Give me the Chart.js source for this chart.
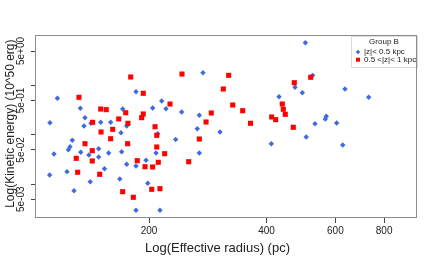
<!DOCTYPE html>
<html>
<head>
<meta charset="utf-8">
<script src="https://cdn.jsdelivr.net/npm/chart.js@4/dist/chart.umd.min.js"></script>
<style>
  html, body { margin: 0; padding: 0; background: #fff; }
  canvas { display: block; }
</style>
</head>
<body>
<canvas id="scatterChart" width="436" height="262"></canvas>
<script>
// Group B, |z| < 0.5 kpc
const lowZRadius = [274.9, 185.2, 133.4, 171.2, 215.5, 204.3, 221.0, 242.4, 269.0, 137.1,
  136.3, 142.0, 150.4, 159.5, 175.3, 169.5, 265.8, 303.9, 210.5, 234.0,
  127.2, 125.5, 124.3, 133.7, 140.3, 148.6, 148.6, 157.6, 170.2, 208.4,
  269.0, 196.5, 175.3, 185.2, 153.8, 123.3, 141.4, 168.3, 198.5, 128.5,
  185.2, 213.3, 502.8, 524.9, 473.0, 493.8, 635.0, 730.3, 430.4, 568.7,
  565.4, 532.1, 604.6, 505.2, 411.3, 626.6, 116.5, 111.5, 114.2, 111.3];
const lowZEnergy = [1.82, 0.751, 0.3465, 0.335, 0.487, 0.3514, 0.340, 0.2916, 0.25, 0.2237,
  0.152, 0.1723, 0.1805, 0.1805, 0.152, 0.1112, 0.134, 0.1149, 0.1062, 0.081,
  0.078, 0.0579, 0.0504, 0.0446, 0.0394, 0.0528, 0.0358, 0.0432, 0.0459, 0.0432,
  0.0432, 0.0307, 0.0255, 0.0236, 0.0208, 0.0181, 0.01134, 0.01287, 0.01053, 0.00746,
  0.00299, 0.00299, 7.36, 1.61, 0.922, 0.717, 0.852, 0.578, 0.595, 0.2387,
  0.2106, 0.169, 0.1748, 0.091, 0.0666, 0.0627, 0.552, 0.177, 0.0412, 0.0155];

// Group B, 0.5 < |z| < 1 kpc
const midZRadius = [179.5, 242.9, 319.9, 132.3, 193.3, 309.9, 150.4, 155.4, 174.3, 226.3,
  193.3, 191.5, 167.3, 143.4, 176.6, 288.7, 327.6, 347.4, 279.9, 363.8,
  150.7, 161.4, 207.2, 209.3, 159.5, 269.0, 137.1, 176.3, 143.1, 209.3,
  130.2, 143.1, 219.3, 186.6, 211.2, 252.7, 195.3, 204.3, 131.3, 149.5,
  203.2, 213.3, 171.2, 182.3, 518.8, 471.0, 438.8, 441.4, 446.6, 412.2,
  422.0, 468.2];
const midZEnergy = [1.49, 1.71, 1.61, 0.578, 0.697, 0.852, 0.335, 0.325, 0.282, 0.423,
  0.266, 0.224, 0.211, 0.1805, 0.1723, 0.2784, 0.404, 0.31, 0.183, 0.1723,
  0.1149, 0.1302, 0.147, 0.0985, 0.0841, 0.0829, 0.0666, 0.0666, 0.0481, 0.0571,
  0.0337, 0.0298, 0.0418, 0.0302, 0.028, 0.0288, 0.0228, 0.0225, 0.0176, 0.016,
  0.00796, 0.00819, 0.00712, 0.00548, 1.47, 1.142, 0.423, 0.331, 0.262, 0.231,
  0.2038, 0.143];

const seriesNames = ['|z|< 0.5 kpc', '0.5 <|z|< 1 kpc'];
const legendTitle = 'Group B';

const xTickValues = [200, 400, 600, 800];
const yTickValues = [0.005, 0.01, 0.05, 0.1, 0.5, 1, 5];
const yTickLabels = ['5e-03', '', '5e-02', '', '5e-01', '', '5e+00'];

const FONT = "'Liberation Sans', Arial, Helvetica, sans-serif";
// no-break spaces nudge the axis titles off the axis centre, like the R output
const NBSP = '\u00A0';

function toPoints(xs, ys) {
  return xs.map((x, i) => ({ x: x, y: ys[i] }));
}

// box round the plot region plus the R-style legend in the top right corner
const framePlugin = {
  id: 'frame',
  afterDatasetsDraw(chart) {
    const ctx = chart.ctx;
    const a = chart.chartArea;
    ctx.save();

    // legend
    const lx = a.right - 66, ly = a.top, lw = 66, lh = 31;
    ctx.fillStyle = '#fff';
    ctx.fillRect(lx, ly, lw, lh);
    ctx.strokeStyle = '#dcdcdc';
    ctx.lineWidth = 1;
    ctx.strokeRect(lx + 0.5, ly + 0.5, lw, lh);

    ctx.fillStyle = '#222';
    ctx.font = '8px ' + FONT;
    ctx.textBaseline = 'middle';
    ctx.textAlign = 'center';
    ctx.fillText(legendTitle, lx + 33, ly + 6);

    ctx.textAlign = 'left';
    chart.data.datasets.forEach((ds, i) => {
      const rowY = ly + 16 + i * 7.7;
      ctx.fillStyle = ds.backgroundColor;
      if (ds.pointStyle === 'rect') {
        ctx.fillRect(lx + 5, rowY - 2, 4, 4);
      } else {
        ctx.beginPath();
        ctx.moveTo(lx + 7, rowY - 2.2);
        ctx.lineTo(lx + 9.2, rowY);
        ctx.lineTo(lx + 7, rowY + 2.2);
        ctx.lineTo(lx + 4.8, rowY);
        ctx.closePath();
        ctx.fill();
      }
      ctx.fillStyle = '#222';
      ctx.fillText(ds.label, lx + 13, rowY);
    });

    // plot box
    ctx.strokeStyle = '#8c8c8c';
    ctx.lineWidth = 1;
    ctx.strokeRect(a.left - 0.5, a.top - 0.5, a.right - a.left, a.bottom - a.top);
    ctx.restore();
  }
};

const CHART = document.getElementById('scatterChart').getContext('2d');

let scatterChart = new Chart(CHART, {
  type: 'scatter',
  data: {
    datasets: [{
      label: seriesNames[0],
      data: toPoints(lowZRadius, lowZEnergy),
      backgroundColor: '#4169E1',
      borderWidth: 0,
      pointStyle: 'rectRot',
      pointRadius: 2.7,
      pointHoverRadius: 2.7,
      order: 2
    }, {
      label: seriesNames[1],
      data: toPoints(midZRadius, midZEnergy),
      backgroundColor: '#FF0000',
      borderWidth: 0,
      pointStyle: 'rect',
      pointRadius: 3.6,
      pointHoverRadius: 3.6,
      order: 1
    }]
  },
  options: {
    responsive: false,
    animation: false,
    events: [],
    layout: { padding: { top: 36, right: 19, left: 0, bottom: 0 } },
    plugins: {
      legend: { display: false },
      tooltip: { enabled: false }
    },
    scales: {
      x: {
        type: 'logarithmic',
        bounds: 'data',
        min: 102.7,
        max: 971,
        afterBuildTicks: (scale) => { scale.ticks = xTickValues.map(v => ({ value: v })); },
        afterFit: (scale) => { scale.height = 44; },
        ticks: {
          autoSkip: false,
          maxRotation: 0,
          padding: 2,
          color: '#222',
          font: { family: FONT, size: 10 },
          callback: (value) => String(value)
        },
        grid: {
          drawOnChartArea: false,
          drawTicks: true,
          tickLength: 5,
          color: '#444',
          offset: false
        },
        border: { display: false },
        title: {
          display: true,
          text: 'Log(Effective radius) (pc)' + NBSP.repeat(5),
          color: '#222',
          font: { family: FONT, size: 13 },
          padding: { top: 0, bottom: 6 }
        }
      },
      y: {
        type: 'logarithmic',
        bounds: 'data',
        min: 0.00209,
        max: 10.06,
        afterBuildTicks: (scale) => { scale.ticks = yTickValues.map(v => ({ value: v })); },
        afterFit: (scale) => { scale.width = 36; },
        ticks: {
          autoSkip: false,
          minRotation: 90,
          maxRotation: 90,
          crossAlign: 'center',
          padding: -4,
          color: '#222',
          font: { family: FONT, size: 10 },
          callback: (value, index) => yTickLabels[index]
        },
        grid: {
          drawOnChartArea: false,
          drawTicks: true,
          tickLength: 5,
          color: '#444',
          offset: false
        },
        border: { display: false },
        title: {
          display: true,
          text: NBSP.repeat(2) + 'Log(Kinetic energy) (10^50 erg)',
          color: '#222',
          font: { family: FONT, size: 12 },
          padding: { top: 3, bottom: 0 }
        }
      }
    }
  },
  plugins: [framePlugin]
});

console.log(scatterChart);
</script>
</body>
</html>
